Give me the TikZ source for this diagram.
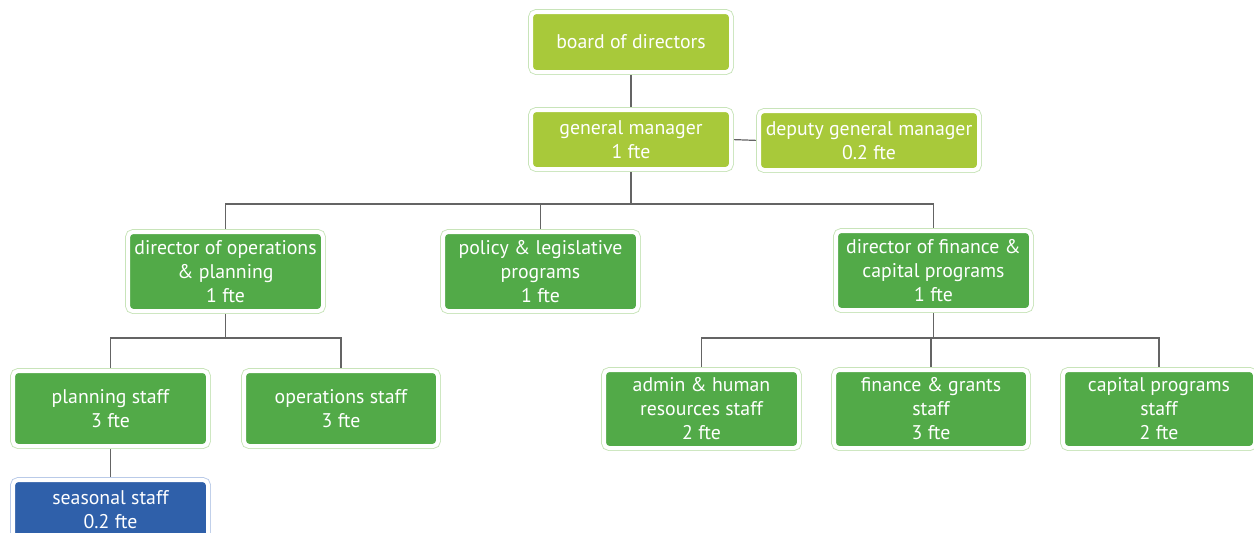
\documentclass[tikz,border=0pt]{standalone}
\usepackage{fontspec}
\setmainfont{PT Sans}
\usetikzlibrary{backgrounds}
\definecolor{lgreen}{RGB}{168,201,58}
\definecolor{mgreen}{RGB}{82,170,72}
\definecolor{dblue}{RGB}{47,96,170}
\definecolor{gframe}{RGB}{200,228,185}
\definecolor{bframe}{RGB}{185,202,232}
\definecolor{conn}{RGB}{100,100,100}
\tikzset{
  basebox/.style={align=center, text=white, font=\fontsize{19.8}{24}\selectfont,
    inner sep=0pt, outer sep=0pt, draw=white, line width=4pt, rounded corners=5pt},
  boxA/.style={basebox, fill=lgreen, preaction={draw=gframe, line width=5.8pt}},
  boxB/.style={basebox, fill=mgreen, preaction={draw=gframe, line width=5.8pt}},
  boxC/.style={basebox, fill=dblue, preaction={draw=bframe, line width=5.8pt}},
  link/.style={draw=conn, line width=1.2pt}
}
\begin{document}
\begin{tikzpicture}[x=1pt,y=-1pt]
\useasboundingbox (0,0) rectangle (1254,533);
\node[boxA, minimum width=200pt, minimum height=60pt] (board) at (631,42) {board of directors};
\node[boxA, minimum width=200pt, minimum height=59pt] (gm) at (631,139.5) {general manager\\1 fte};
\node[boxA, minimum width=220pt, minimum height=59pt] (dgm) at (869,140.5) {deputy general manager\\0.2 fte};
\node[boxB, minimum width=195pt, minimum height=79pt] (dirops) at (225.5,271.5) {director of operations\\\& planning\\1 fte};
\node[boxB, minimum width=195pt, minimum height=79pt] (policy) at (540.5,271.5) {policy \& legislative\\programs\\1 fte};
\node[boxB, minimum width=195pt, minimum height=79pt] (finance) at (933.5,270.5) {director of finance \&\\capital programs\\1 fte};
\node[boxB, minimum width=195pt, minimum height=75pt] (planning) at (110.5,408.5) {planning staff\\3 fte};
\node[boxB, minimum width=194pt, minimum height=75pt] (operations) at (341,408.5) {operations staff\\3 fte};
\node[boxB, minimum width=195pt, minimum height=78pt] (admin) at (701.5,409) {admin \& human\\resources staff\\2 fte};
\node[boxB, minimum width=194pt, minimum height=78pt] (fgrants) at (931,409) {finance \& grants\\staff\\3 fte};
\node[boxB, minimum width=192pt, minimum height=78pt] (capital) at (1159,409) {capital programs\\staff\\2 fte};
\node[boxC, minimum width=195pt, minimum height=59pt] (seasonal) at (110.5,509.5) {seasonal staff\\0.2 fte};
\coordinate (yA) at (0,204);
\coordinate (yB) at (0,338);
\coordinate (yC) at (0,338);
\begin{scope}[on background layer]
\draw[link] (board.south) -- (gm.north);
\draw[link] (gm.east) -- (dgm.west);
\draw[link] (gm.south) -- (gm.south |- yA);
\draw[link] (dirops.north) |- (finance.north |- yA) -- (finance.north);
\draw[link] (policy.north) -- (policy.north |- yA);
\draw[link] (dirops.south) -- (dirops.south |- yB);
\draw[link] (planning.north) |- (operations.north |- yB) -- (operations.north);
\draw[link] (finance.south) -- (finance.south |- yC);
\draw[link] (admin.north) |- (capital.north |- yC) -- (capital.north);
\draw[link] (fgrants.north) -- (fgrants.north |- yC);
\draw[link] (planning.south) -- (seasonal.north);
\end{scope}
\end{tikzpicture}
\end{document}
